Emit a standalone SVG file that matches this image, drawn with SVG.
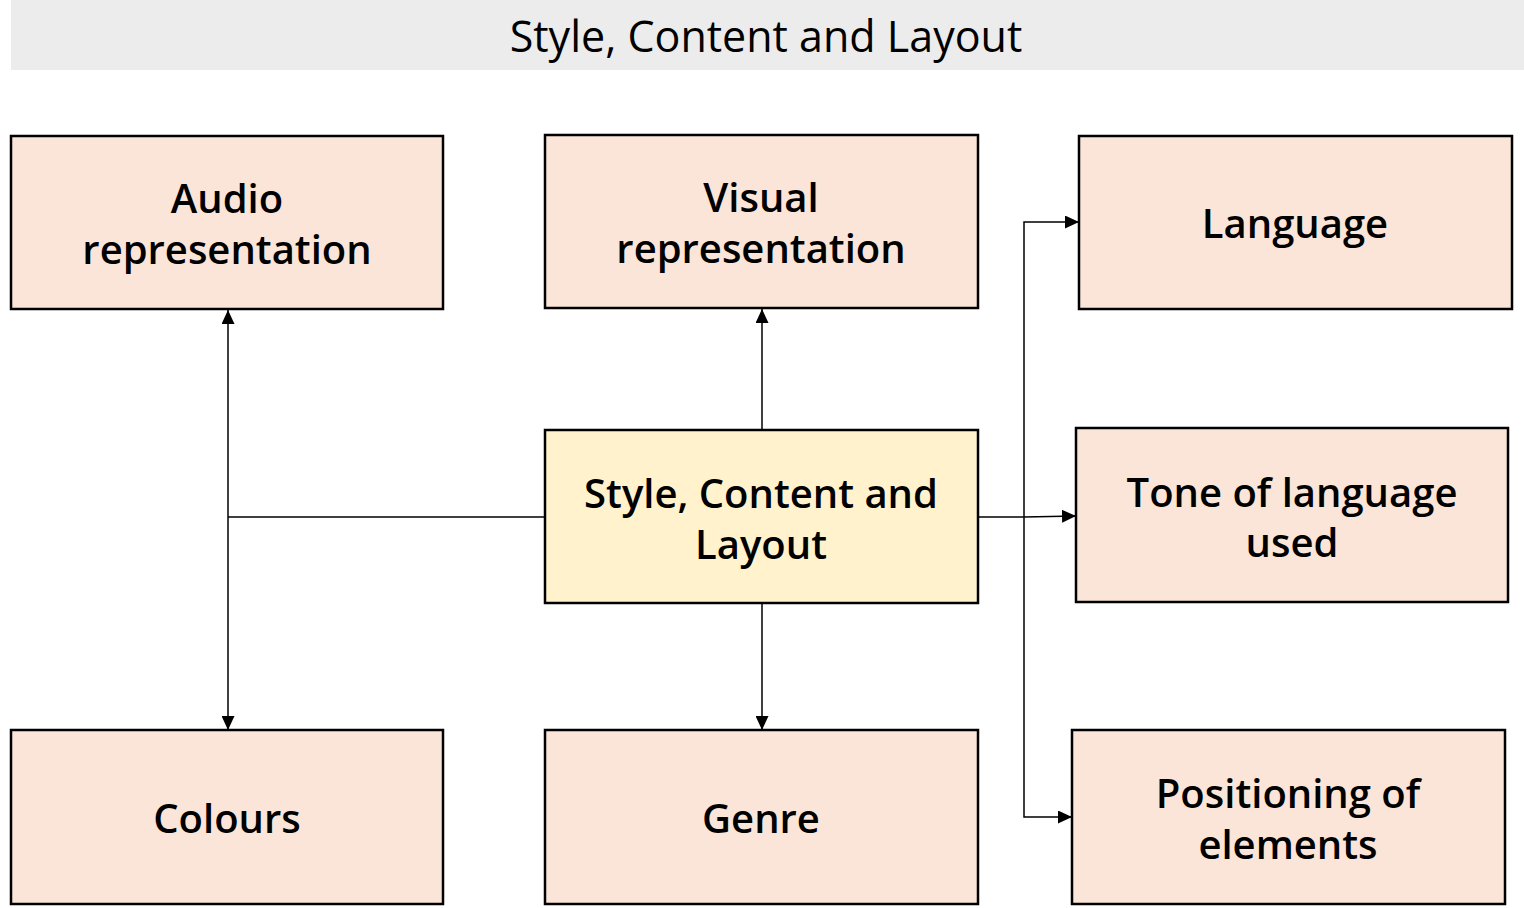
<svg xmlns="http://www.w3.org/2000/svg" width="1524" height="908" viewBox="0 0 1524 908">
<defs>
<marker id="arr" markerWidth="14" markerHeight="13" refX="14" refY="6.5" orient="auto" markerUnits="userSpaceOnUse">
<path d="M0,0 L14,6.5 L0,13 Z" fill="#000"/>
</marker>
<style>
.box{fill:#fae5d8;stroke:#000;stroke-width:2.5}
.ctr{fill:#fff2cd;stroke:#000;stroke-width:2.5}
.t{font-family:"Open Sans","Noto Sans","Liberation Sans",sans-serif;font-size:40px;font-weight:600;fill:#000;text-anchor:middle}
.c{fill:none;stroke:#000;stroke-width:1.5}
</style>
</defs>
<rect width="1524" height="908" fill="#fff"/>
<g id="header">
<rect x="11" y="0" width="1513" height="70" fill="#ececec"/>
<text class="t" x="766" y="52" style="font-size:43px;font-weight:400">Style, Content and Layout</text>
</g>
<g id="connectors">
<path class="c" d="M545,517 H228"/>
<path class="c" d="M228,517 V310" marker-end="url(#arr)"/>
<path class="c" d="M228,517 V730" marker-end="url(#arr)"/>
<path class="c" d="M762,430 V309" marker-end="url(#arr)"/>
<path class="c" d="M762,603 V730" marker-end="url(#arr)"/>
<path class="c" d="M978,517 H1024"/>
<path class="c" d="M1024,517 V222 H1079" marker-end="url(#arr)"/>
<path class="c" d="M1024,517 L1076,516" marker-end="url(#arr)"/>
<path class="c" d="M1024,517 V817 H1072" marker-end="url(#arr)"/>
</g>
<g id="audio"><rect class="box" x="11" y="136" width="432" height="173"/><text class="t" x="227" y="213">Audio</text><text class="t" x="227" y="264">representation</text></g>
<g id="visual"><rect class="box" x="545" y="135" width="433" height="173"/><text class="t" x="761" y="212">Visual</text><text class="t" x="761" y="263">representation</text></g>
<g id="language"><rect class="box" x="1079" y="136" width="433" height="173"/><text class="t" x="1295" y="238">Language</text></g>
<g id="center"><rect class="ctr" x="545" y="430" width="433" height="173"/><text class="t" x="761" y="508">Style, Content and</text><text class="t" x="761" y="559">Layout</text></g>
<g id="tone"><rect class="box" x="1076" y="428" width="432" height="174"/><text class="t" x="1292" y="507">Tone of language</text><text class="t" x="1292" y="557">used</text></g>
<g id="colours"><rect class="box" x="11" y="730" width="432" height="174"/><text class="t" x="227" y="833">Colours</text></g>
<g id="genre"><rect class="box" x="545" y="730" width="433" height="174"/><text class="t" x="761" y="833">Genre</text></g>
<g id="positioning"><rect class="box" x="1072" y="730" width="433" height="174"/><text class="t" x="1288" y="808">Positioning of</text><text class="t" x="1288" y="859">elements</text></g>
</svg>
